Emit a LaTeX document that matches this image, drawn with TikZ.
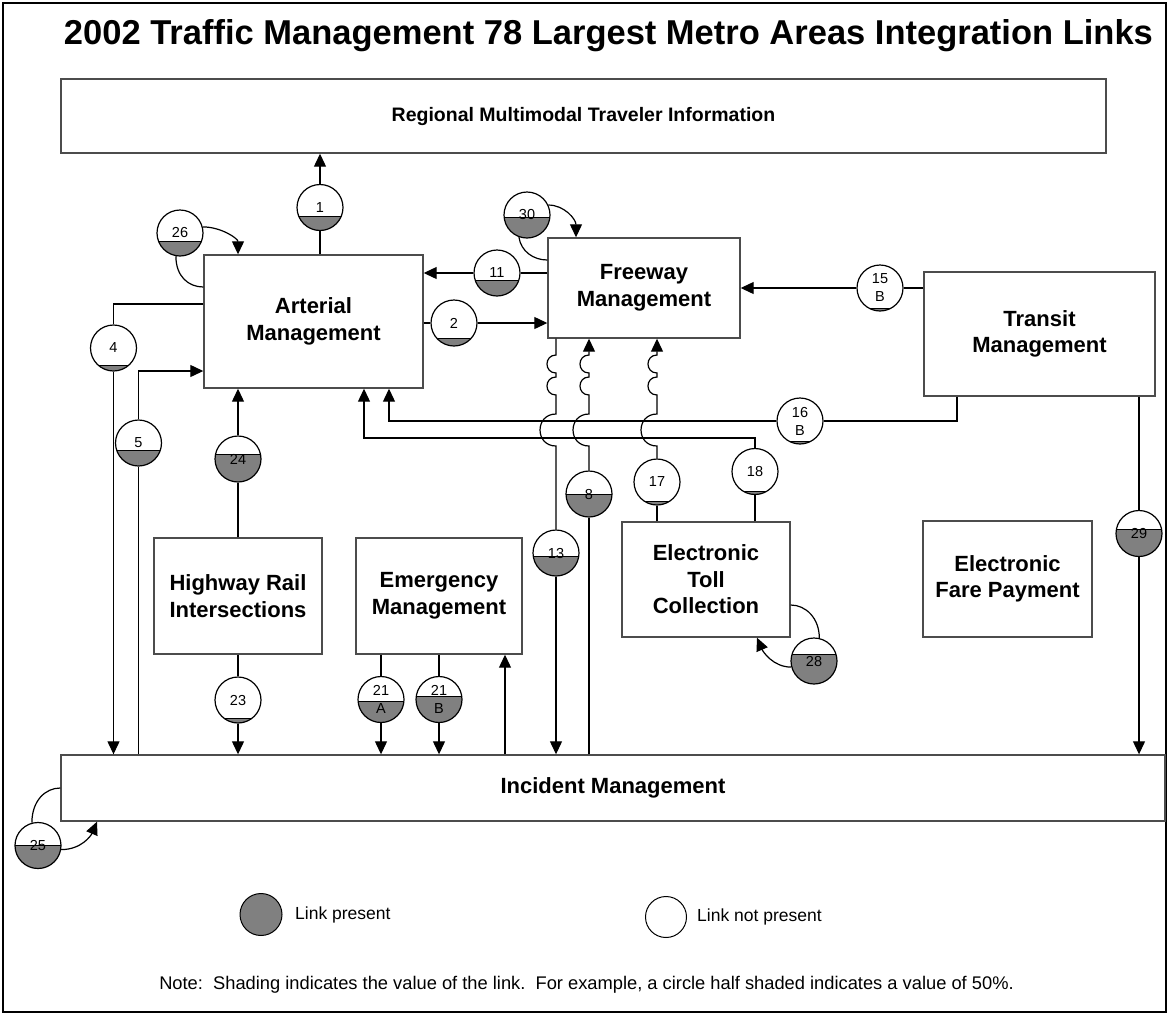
\documentclass[tikz,border=0pt]{standalone}
\usepackage{fontspec}
\setmainfont{Liberation Sans}
\usetikzlibrary{arrows.meta}
\definecolor{linkgray}{HTML}{808080}
\tikzset{
  box/.style={draw=black!70, line width=1.4pt, fill=white, rectangle, inner sep=0pt, align=center,
    font=\fontsize{22}{26.5}\selectfont\bfseries},
  conn/.style={draw=black, line width=1.2pt},
  arr/.style={conn, -{Triangle[length=13pt,width=12pt]}},
  lnk/.style={circle, draw=black, line width=1.2pt, fill=white, minimum size=46pt, inner sep=0pt, align=center,
    font=\fontsize{14.5}{18}\selectfont,
    path picture={
      \fill[linkgray] ([yshift=#1]path picture bounding box.center) ++(-30pt,0pt) rectangle ++(60pt,-40pt);
      \draw[line width=1pt] ([yshift=#1]path picture bounding box.center) ++(-30pt,0pt) -- ++(60pt,0pt);
    }},
  legtext/.style={anchor=west, inner sep=0pt, font=\fontsize{17.5}{21}\selectfont},
}
\begin{document}
\begin{tikzpicture}[x=1pt,y=-1pt]
\useasboundingbox (0,0) rectangle (1169,1015);
\draw[line width=2pt] (3,3) rectangle (1166,1012);

\node[font=\fontsize{34.5}{40}\selectfont\bfseries] (title) at (608.5,36) {2002 Traffic Management 78 Largest Metro Areas Integration Links};

% boxes
\node[box, minimum width=1045pt, minimum height=74pt, font=\fontsize{19.5}{23}\selectfont\bfseries] (reg) at (583.5,116) {Regional Multimodal Traveler Information};
\node[box, minimum width=219pt, minimum height=133pt] (art) at (313.5,321.5) {Arterial\\Management};
\node[box, minimum width=192pt, minimum height=100pt] (fwy) at (644,288) {Freeway\\Management};
\node[box, minimum width=231pt, minimum height=124pt] (tra) at (1039.5,334) {Transit\\Management};
\node[box, minimum width=168pt, minimum height=116pt] (hri) at (238,596) {Highway Rail\\Intersections};
\node[box, minimum width=166pt, minimum height=116pt] (emg) at (439,596) {Emergency\\Management};
\node[box, minimum width=168pt, minimum height=115pt] (etc) at (706,579.5) {Electronic\\Toll\\Collection};
\node[box, minimum width=169pt, minimum height=116pt] (efp) at (1007.5,579) {Electronic\\Fare Payment};
\node[box, minimum width=1104pt, minimum height=66pt] (inc) at (613,788) {Incident Management};

% link circles (argument: chord height above centre)
\node[lnk=-9pt] (c1) at (320,207.5) {1};
\node[lnk=-8pt] (c26) at (180,233) {26};
\node[lnk=-2pt] (c30) at (527,215) {30};
\node[lnk=-7pt] (c11) at (497,273) {11};
\node[lnk=-15pt] (c2) at (454,323) {2};
\node[lnk=-20pt] (c15) at (880,288) {15\\B};
\node[lnk=-20pt] (c16) at (800,421) {16\\B};
\node[lnk=-17pt] (c4) at (113.5,348) {4};
\node[lnk=-7.5pt] (c5) at (138.5,443) {5};
\node[lnk=5pt] (c24) at (238,459) {24};
\node[lnk=-3pt] (c13) at (556,553) {13};
\node[lnk=0pt] (c8) at (589,494) {8};
\node[lnk=-19pt] (c17) at (657,482) {17};
\node[lnk=-20pt] (c18) at (755,471.5) {18};
\node[lnk=-18pt] (c23) at (238,700) {23};
\node[lnk=-1.5pt] (c21a) at (381,699.5) {21\\A};
\node[lnk=3.5pt] (c21b) at (439,699.5) {21\\B};
\node[lnk=7pt] (c28) at (814,661) {28};
\node[lnk=4pt] (c29) at (1139,533.5) {29};
\node[lnk=0pt] (c25) at (38,845.5) {25};

% helper coordinates
\coordinate (k4) at (113.5,304);
\coordinate (k5) at (138.5,371);
\coordinate (k16) at (389,421);
\coordinate (k16b) at (957,421);
\coordinate (k18) at (364,438);
\coordinate (k26) at (238,287);
\coordinate (k30) at (576,260);
\coordinate (k28) at (757,605);
\coordinate (k25) at (97,788);
\coordinate (kem) at (505,700);

% connectors
\draw[conn] (c1 |- art.north) -- (c1.south);
\draw[arr] (c1.north) -- (c1 |- reg.south);
\draw[conn] (c26.260) .. controls +(0,20) and +(-15,0) .. (art.west |- k26);
\draw[arr] (c26.15) .. controls +(18,0) and +(0,-16) .. (k26 |- art.north);
\draw[conn] (fwy.west |- c11.east) -- (c11.east);
\draw[arr] (c11.west) -- (art.east |- c11.west);
\draw[conn] (art.east |- c2.west) -- (c2.west);
\draw[arr] (c2.east) -- (fwy.west |- c2.east);
\draw[conn] (c30.250) .. controls +(2,14) and +(-14,0) .. (fwy.west |- k30);
\draw[arr] (c30.25) .. controls +(16,0) and +(0,-18) .. (k30 |- fwy.north);
\draw[conn] (tra.west |- c15.east) -- (c15.east);
\draw[arr] (c15.west) -- (fwy.east |- c15.west);
\draw[conn] (k16b |- tra.south) -- (k16b) -- (c16.east);
\draw[arr] (c16.west) -- (k16) -- (k16 |- art.south);
\draw[conn] (c18 |- etc.north) -- (c18.south);
\draw[arr] (c18.north) -- (c18 |- k18) -- (k18) -- (k18 |- art.south);
\draw[conn] (art.west |- k4) -- (k4) -- (c4.north);
\draw[arr] (c4.south) -- (c4 |- inc.north);
\draw[conn] (c5 |- inc.north) -- (c5.south);
\draw[arr] (c5.north) -- (k5) -- (art.west |- k5);
\draw[conn] (c24 |- hri.north) -- (c24.south);
\draw[arr] (c24.north) -- (c24 |- art.south);
\draw[conn] (c23 |- hri.south) -- (c23.north);
\draw[arr] (c23.south) -- (c23 |- inc.north);
\draw[conn] (c21a |- emg.south) -- (c21a.north);
\draw[arr] (c21a.south) -- (c21a |- inc.north);
\draw[conn] (c21b |- emg.south) -- (c21b.north);
\draw[arr] (c21b.south) -- (c21b |- inc.north);
\draw[arr] (kem |- inc.north) -- (kem |- emg.south);
% line 13 with jumps
\draw[conn] (c13 |- fwy.south) -- (556,355)
  .. controls (544,355) and (544,373) .. (556,373) -- (556,377)
  .. controls (544,377) and (544,395) .. (556,395) -- (556,414)
  .. controls (534.7,414) and (534.7,446) .. (556,446) -- (c13.north);
\draw[arr] (c13.south) -- (c13 |- inc.north);
% line 8 with jumps
\draw[conn] (c8 |- inc.north) -- (c8.south);
\draw[arr] (c8.north) -- (589,446)
  .. controls (567.7,446) and (567.7,414) .. (589,414) -- (589,395)
  .. controls (577,395) and (577,377) .. (589,377) -- (589,373)
  .. controls (577,373) and (577,355) .. (589,355) -- (c8 |- fwy.south);
% line 17 with jumps
\draw[conn] (c17 |- etc.north) -- (c17.south);
\draw[arr] (c17.north) -- (657,446)
  .. controls (635.7,446) and (635.7,414) .. (657,414) -- (657,395)
  .. controls (645,395) and (645,377) .. (657,377) -- (657,373)
  .. controls (645,373) and (645,355) .. (657,355) -- (c17 |- fwy.south);
\draw[conn] (c29 |- tra.south) -- (c29.north);
\draw[arr] (c29.south) -- (c29 |- inc.north);
\draw[conn] (c28.77) .. controls +(0,-20) and +(15,0) .. (etc.east |- k28);
\draw[arr] (c28.195) .. controls +(-18,0) and +(6,14) .. (k28 |- etc.south);
\draw[conn] (c25.105) .. controls +(0,-22) and +(-15,0) .. (inc.west |- k25);
\draw[arr] (c25.350) .. controls +(20,0) and +(-6,14) .. (k25 |- inc.south);

% legend
\node[circle, draw=black, line width=1pt, fill=linkgray, minimum size=42pt, inner sep=0pt] (lp) at (261,914.5) {};
\node[legtext] (lpt) at (295,915) {Link present};
\node[circle, draw=black, line width=1pt, fill=white, minimum size=41pt, inner sep=0pt] (ln) at (666,917) {};
\node[legtext] (lnt) at (697,917) {Link not present};
\node[inner sep=0pt, font=\fontsize{18.3}{22}\selectfont] (note) at (586.5,985) {Note:\ \ Shading indicates the value of the link.\ \ For example, a circle half shaded indicates a value of 50\%.};
\end{tikzpicture}
\end{document}
